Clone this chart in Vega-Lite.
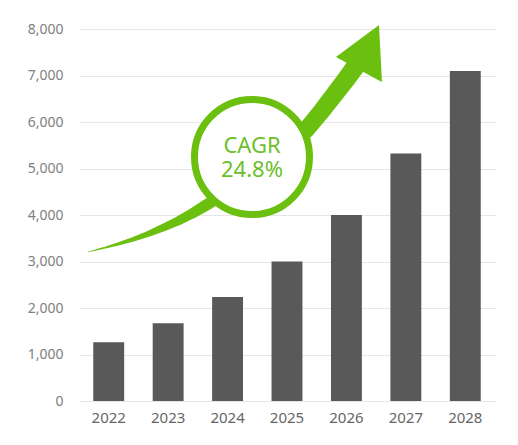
{
  "$schema": "https://vega.github.io/schema/vega-lite/v6.json",
  "autosize": {"type": "none"},
  "padding": {"left": 79, "top": 29, "right": 23, "bottom": 44},
  "width": 416,
  "height": 372,
  "background": "white",
  "config": {
    "view": {"stroke": null},
    "font": "Noto Sans",
    "axis": {"labelFont": "Noto Sans"}
  },
  "datasets": {
    "bars": [
      {"year": "2022", "value": 1264},
      {"year": "2023", "value": 1673},
      {"year": "2024", "value": 2239},
      {"year": "2025", "value": 2999},
      {"year": "2026", "value": 3998},
      {"year": "2027", "value": 5324},
      {"year": "2028", "value": 7098}
    ],
    "trail": [
      {"tx": 0.151, "ty": 3204, "w": 0.5},
      {"tx": 0.404, "ty": 3285, "w": 1.8},
      {"tx": 0.656, "ty": 3376, "w": 3},
      {"tx": 0.909, "ty": 3478, "w": 4.5},
      {"tx": 1.161, "ty": 3591, "w": 6},
      {"tx": 1.414, "ty": 3725, "w": 7.5},
      {"tx": 1.666, "ty": 3871, "w": 9},
      {"tx": 1.919, "ty": 4043, "w": 10.3},
      {"tx": 2.171, "ty": 4236, "w": 11.5},
      {"tx": 2.591, "ty": 4581, "w": 13.5},
      {"tx": 2.995, "ty": 4925, "w": 15},
      {"tx": 3.416, "ty": 5355, "w": 16},
      {"tx": 3.820, "ty": 5828, "w": 17},
      {"tx": 4.055, "ty": 6193, "w": 17.5},
      {"tx": 4.291, "ty": 6581, "w": 18},
      {"tx": 4.510, "ty": 6946, "w": 18.5},
      {"tx": 4.695, "ty": 7269, "w": 19}
    ],
    "head": [
      {"hx": 4.324, "hy": 7398, "hy2": 7398},
      {"hx": 5.048, "hy": 8086, "hy2": 6894},
      {"hx": 5.098, "hy": 6860, "hy2": 6860}
    ],
    "badge": [
      {"cx": 2.911, "cy": 5247}
    ],
    "labels": [
      {"lx": 2.911, "ly": 5340, "text": "CAGR"},
      {"lx": 2.911, "ly": 4811, "text": "24.8%"}
    ]
  },
  "layer": [
    {
      "data": {"name": "bars"},
      "mark": {"type": "bar", "color": "#595959"},
      "encoding": {
        "x": {
          "field": "year", "type": "ordinal",
          "scale": {"paddingInner": 0.48, "paddingOuter": 0.24},
          "axis": {"title": null, "labelAngle": 0, "domain": false, "ticks": false, "labelPadding": 9, "labelFontSize": 15, "labelColor": "#666666"}
        },
        "y": {
          "field": "value", "type": "quantitative", "title": null,
          "scale": {"domain": [0, 8000], "nice": false},
          "axis": {"title": null, "values": [0, 1000, 2000, 3000, 4000, 5000, 6000, 7000, 8000], "format": ",.0f", "domain": false, "ticks": false, "labelPadding": 16, "labelFontSize": 14, "labelColor": "#808080", "gridColor": "#e6e6e6", "gridWidth": 1}
        }
      }
    },
    {
      "data": {"name": "trail"},
      "mark": {"type": "trail", "color": "#6abf0f"},
      "encoding": {
        "x": {"field": "tx", "type": "quantitative", "scale": {"domain": [0, 7], "nice": false, "zero": false}, "axis": null},
        "y": {"field": "ty", "type": "quantitative", "title": null},
        "size": {"field": "w", "type": "quantitative", "scale": null},
        "order": {"field": "tx"}
      }
    },
    {
      "data": {"name": "head"},
      "mark": {"type": "area", "color": "#6abf0f", "interpolate": "linear"},
      "encoding": {
        "x": {"field": "hx", "type": "quantitative", "scale": {"domain": [0, 7], "nice": false, "zero": false}, "axis": null},
        "y": {"field": "hy", "type": "quantitative", "title": null},
        "y2": {"field": "hy2"}
      }
    },
    {
      "data": {"name": "badge"},
      "mark": {"type": "point", "shape": "circle", "filled": false, "fill": "white", "fillOpacity": 1, "stroke": "#6abf0f", "strokeWidth": 7, "size": 13225, "opacity": 1},
      "encoding": {
        "x": {"field": "cx", "type": "quantitative", "scale": {"domain": [0, 7], "nice": false, "zero": false}, "axis": null},
        "y": {"field": "cy", "type": "quantitative", "title": null}
      }
    },
    {
      "data": {"name": "labels"},
      "mark": {"type": "text", "font": "Noto Sans", "fontSize": 22, "color": "#6cbf2b", "align": "center", "baseline": "alphabetic"},
      "encoding": {
        "x": {"field": "lx", "type": "quantitative", "scale": {"domain": [0, 7], "nice": false, "zero": false}, "axis": null},
        "y": {"field": "ly", "type": "quantitative", "title": null},
        "text": {"field": "text"}
      }
    }
  ],
  "resolve": {"scale": {"x": "independent"}, "axis": {"x": "independent"}}
}
